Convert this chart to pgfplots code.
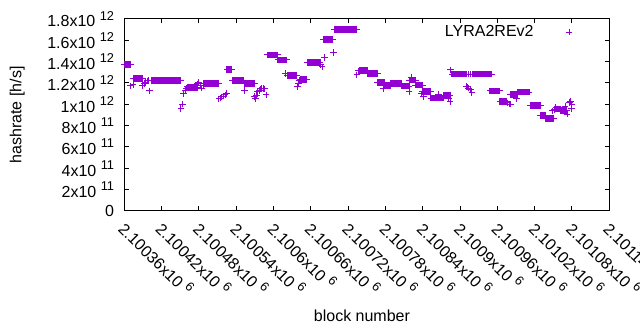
\documentclass[border=0pt]{standalone}
\usepackage{fontspec}
\setmainfont{Liberation Sans}
\usepackage{graphicx}
\usepackage{pgfplots}
\usepackage{pgfplotstable}
\pgfplotsset{compat=1.18}
\definecolor{gp}{HTML}{9400D3}
\def\blkstrip210#1\relax{#1}
\newcommand{\tp}[2]{#1x10\hspace{0.28em}\raisebox{0.42em}{\fontsize{12.8bp}{12.8bp}\selectfont #2}}
\pgfplotsset{mylegimg/.style={legend image code/.code={\path (0bp,0bp) (36bp,0bp); \draw[##1] plot coordinates {(33bp,0bp)};}}}

% plateau segments: start, end (same y), separated by nan rows
\pgfplotstableread{
x y
2100360 1.375e12
2100370 1.375e12
2100370 nan
2100375 1.244e12
2100389 1.244e12
2100389 nan
2100404 1.226e12
2100451 1.226e12
2100451 nan
2100464 1.160e12
2100477 1.160e12
2100477 nan
2100488 1.197e12
2100512 1.197e12
2100512 nan
2100525 1.328e12
2100533 1.328e12
2100533 nan
2100534 1.225e12
2100552 1.225e12
2100552 nan
2100553 1.197e12
2100569 1.197e12
2100569 nan
2100590 1.4625e12
2100606 1.4625e12
2100606 nan
2100607 1.416e12
2100621 1.416e12
2100621 nan
2100622 1.270e12
2100637 1.270e12
2100637 nan
2100643 1.235e12
2100653 1.235e12
2100653 nan
2100654 1.394e12
2100675 1.394e12
2100675 nan
2100680 1.606e12
2100695 1.606e12
2100695 nan
2100698 1.703e12
2100734 1.703e12
2100734 nan
2100738 1.319e12
2100751 1.319e12
2100751 nan
2100751 1.291e12
2100767 1.291e12
2100767 nan
2100767 1.203e12
2100778 1.203e12
2100778 nan
2100778 1.175e12
2100788 1.175e12
2100788 nan
2100788 1.197e12
2100806 1.197e12
2100806 nan
2100806 1.170e12
2100818 1.170e12
2100818 nan
2100818 1.228e12
2100828 1.228e12
2100828 nan
2100828 1.181e12
2100840 1.181e12
2100840 nan
2100840 1.120e12
2100853 1.120e12
2100853 nan
2100853 1.059e12
2100874 1.059e12
2100874 nan
2100874 1.080e12
2100884 1.080e12
2100884 nan
2100887 1.2825e12
2100911 1.2825e12
2100911 nan
2100920 1.2825e12
2100951 1.2825e12
2100951 nan
2100948 1.125e12
2100963 1.125e12
2100963 nan
2100964 1.028e12
2100974 1.028e12
2100974 nan
2100981 1.090e12
2100992 1.090e12
2100992 nan
2100993 1.114e12
2101011 1.114e12
2101011 nan
2101013 0.991e12
2101029 0.991e12
2101029 nan
2101029 0.895e12
2101038 0.895e12
2101038 nan
2101038 0.867e12
2101050 0.867e12
2101050 nan
2101054 0.956e12
2101061 0.956e12
2101061 nan
2101061 0.944e12
2101071 0.944e12
}\plateaus

% single blocks
\pgfplotstableread{
x y
2100370 1.172e12
2100374 1.184e12
2100389 1.172e12
2100392 1.191e12
2100394 1.205e12
2100397 1.219e12
2100399 1.223e12
2100401 1.125e12
2100451 0.961e12
2100454 1.003e12
2100455 1.097e12
2100458 1.134e12
2100460 1.153e12
2100462 1.1625e12
2100478 1.191e12
2100479 1.205e12
2100482 1.172e12
2100484 1.153e12
2100487 1.181e12
2100512 1.050e12
2100515 1.059e12
2100517 1.069e12
2100520 1.078e12
2100522 1.0875e12
2100524 1.106e12
2100553 1.130e12
2100569 1.072e12
2100571 1.050e12
2100573 1.083e12
2100574 1.116e12
2100577 1.130e12
2100579 1.144e12
2100581 1.148e12
2100584 1.148e12
2100586 1.144e12
2100588 1.0875e12
2100619 1.289e12
2100639 1.1625e12
2100640 1.195e12
2100642 1.228e12
2100676 1.369e12
2100678 1.350e12
2100682 1.441e12
2100696 1.484e12
2100734 1.275e12
2100736 1.3125e12
2100777 1.150e12
2100818 1.118e12
2100822 1.256e12
2100838 1.097e12
2100841 1.072e12
2100865 1.094e12
2100881 1.057e12
2100884 1.022e12
2100885 1.322e12
2100913 1.2825e12
2100916 1.2825e12
2100910 1.167e12
2100912 1.1625e12
2100914 1.153e12
2100917 1.139e12
2100919 1.111e12
2100976 1.0125e12
2100979 1.003e12
2100981 1.003e12
2100991 1.057e12
2101049 0.9375e12
2101052 0.952e12
2101054 0.970e12
2101069 0.984e12
2101072 0.909e12
2101076 1.017e12
2101078 1.031e12
2101080 0.994e12
2101079 0.961e12
}\singles

\begin{document}
\fontsize{16bp}{19bp}\selectfont
\begin{tikzpicture}
\useasboundingbox (0,0) rectangle (640bp,330bp);
\begin{axis}[
  at={(124.3bp,119bp)}, anchor=south west,
  scale only axis, width=485bp, height=192bp,
  x coord trafo/.code={\edef\pgfmathresult{\blkstrip#1\relax}},
  xmin=2100360, xmax=2101140, ymin=0, ymax=1.8e12,
  scaled x ticks=false, scaled y ticks=false,
  clip=false,
  axis line style={line width=1bp, black},
  every tick/.style={black, line width=1bp},
  tick align=inside, tick pos=both, major tick length=4.5bp,
  xtick={2100360,2100420,2100480,2100540,2100600,2100660,2100720,2100780,2100840,2100900,2100960,2101020,2101080,2101140},
  xticklabels={\tp{2.10036}{6},\tp{2.10042}{6},\tp{2.10048}{6},\tp{2.10054}{6},\tp{2.1006}{6},\tp{2.10066}{6},\tp{2.10072}{6},\tp{2.10078}{6},\tp{2.10084}{6},\tp{2.1009}{6},\tp{2.10096}{6},\tp{2.10102}{6},\tp{2.10108}{6},\tp{2.10114}{6}},
  xticklabel style={xshift=-7bp, yshift=-19bp, rotate=-45, anchor=base west, inner sep=0pt},
  ytick={0,2e11,4e11,6e11,8e11,1e12,1.2e12,1.4e12,1.6e12,1.8e12},
  yticklabels={0,\tp{2}{11},\tp{4}{11},\tp{6}{11},\tp{8}{11},\tp{1}{12},\tp{1.2}{12},\tp{1.4}{12},\tp{1.6}{12},\tp{1.8}{12}},
  yticklabel style={anchor=east, inner sep=0pt, xshift=-10bp},
  xlabel={block number},
  xlabel style={at={(axis description cs:0.49,-0.547)}, anchor=center},
  ylabel={hashrate [h/s]},
  ylabel style={at={(axis description cs:-0.221,0.5)}, anchor=center},
  legend plot pos=right,
  legend cell align=right,
  legend style={draw=none, fill=none, inner sep=0pt,
    at={(axis description cs:0.9247,0.932)}, anchor=east},
]
\addplot[forget plot, gp, line width=6.6bp, unbounded coords=jump] table {\plateaus};
\addplot[forget plot, gp, only marks, mark=+, mark size=3.3bp, line width=1bp] table {\plateaus};
\addplot[gp, only marks, mark=+, mark size=3.3bp, line width=1bp, mylegimg] table {\singles};
\addlegendentry{LYRA2REv2}
\end{axis}
\end{tikzpicture}
\end{document}
